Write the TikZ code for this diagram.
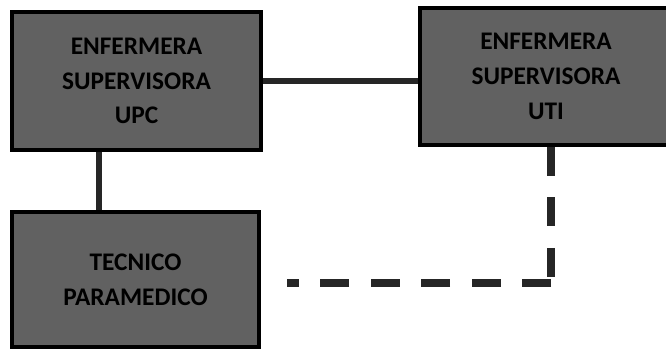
\documentclass[tikz,border=0pt]{standalone}
\usepackage{fontspec}
\newfontfamily\boxfont{Carlito}
\usetikzlibrary{positioning}
\begin{document}
\begin{tikzpicture}[x=0.75pt,y=-0.75pt,
  caja/.style={draw=black,line width=3pt,fill=black!62,text=black,align=center,
    inner sep=0pt,font=\boxfont\bfseries\fontsize{19}{26}\selectfont},
  linea/.style={line width=4.2pt,black!85},
  trazos/.style={line width=6pt,black!85,dash pattern=on 21.75pt off 16.1pt}]%organigrama UPC
\useasboundingbox (0,0) rectangle (666,349);
\clip (0,0) rectangle (666,349);
\node[caja,minimum width=186.75pt,minimum height=103.5pt] (upc) at (136.5,81) {ENFERMERA\\SUPERVISORA\\UPC};
\node[caja,minimum width=189pt,minimum height=102.75pt] (uti) at (546,76.5) {ENFERMERA\\SUPERVISORA\\UTI};
\node[caja,minimum width=185.25pt,minimum height=101.25pt] (tec) at (135.5,279.5) {TECNICO\\PARAMEDICO};
\coordinate (baja) at (99,0);
\coordinate (esquina) at (551,283);
\draw[linea] (upc.east) -- (upc.east -| uti.west);
\draw[linea] (upc.south -| baja) -- (tec.north -| baja);
\draw[trazos] (uti.south -| esquina) -- (esquina);
\draw[trazos,shorten >=19.5pt] (esquina) -- (esquina -| tec.east);
\end{tikzpicture}
\end{document}
